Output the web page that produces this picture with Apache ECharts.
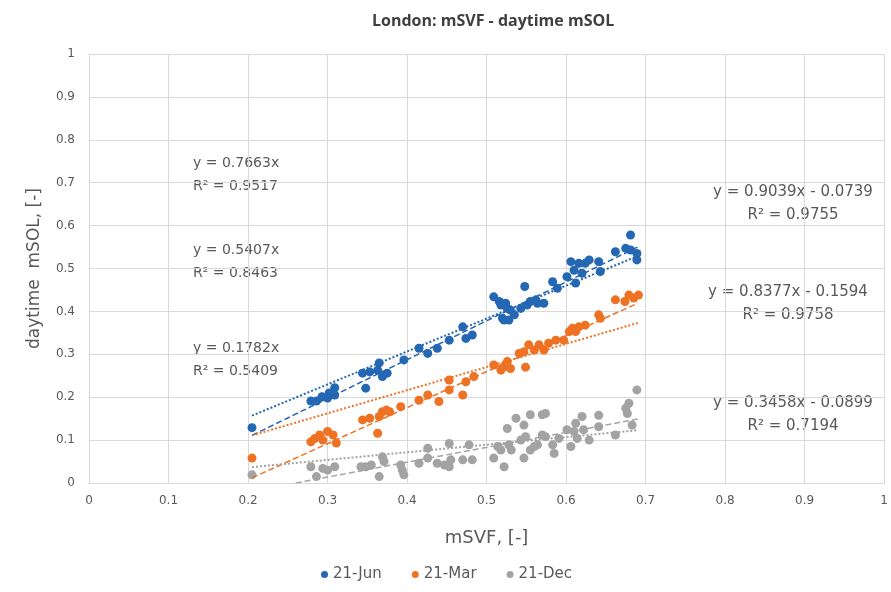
<!DOCTYPE html>
<html>
<head>
<meta charset="utf-8">
<script src="https://cdn.jsdelivr.net/npm/echarts@6/dist/echarts.min.js"></script>
<style>
    html, body { margin: 0; padding: 0; background: #fff; }
    #chart { width: 891px; height: 592px; }
</style>
</head>
<body>
<div id="chart"></div>
<script>
    // 数据点 [mSVF, mSOL]
    var junPts = [
        [0.205,0.129],[0.279,0.191],[0.286,0.191],[0.293,0.201],[0.300,0.198],[0.302,0.210],
        [0.309,0.222],[0.309,0.205],[0.344,0.256],[0.348,0.221],[0.353,0.259],[0.363,0.263],
        [0.365,0.280],[0.369,0.248],[0.375,0.256],[0.396,0.287],[0.415,0.314],[0.426,0.302],
        [0.438,0.314],[0.453,0.333],[0.470,0.364],[0.474,0.337],[0.482,0.345],[0.509,0.434],
        [0.516,0.423],[0.518,0.415],[0.520,0.384],[0.522,0.380],[0.524,0.419],[0.526,0.407],
        [0.528,0.380],[0.530,0.403],[0.535,0.392],[0.543,0.407],[0.548,0.458],[0.551,0.415],
        [0.555,0.423],[0.562,0.427],[0.564,0.419],[0.572,0.419],[0.583,0.469],[0.589,0.454],
        [0.601,0.481],[0.606,0.516],[0.610,0.496],[0.612,0.466],[0.616,0.512],[0.620,0.489],
        [0.624,0.512],[0.629,0.520],[0.641,0.516],[0.643,0.493],[0.662,0.539],[0.675,0.547],
        [0.681,0.578],[0.681,0.543],[0.689,0.535],[0.689,0.520]
    ];
    var marPts = [
        [0.205,0.058],[0.279,0.096],[0.284,0.104],[0.290,0.112],[0.294,0.100],[0.300,0.120],
        [0.307,0.112],[0.311,0.093],[0.344,0.147],[0.353,0.151],[0.363,0.116],[0.365,0.155],
        [0.369,0.166],[0.374,0.170],[0.378,0.166],[0.392,0.178],[0.415,0.193],[0.426,0.205],
        [0.440,0.190],[0.453,0.240],[0.453,0.217],[0.470,0.205],[0.474,0.236],[0.484,0.248],
        [0.509,0.275],[0.518,0.263],[0.522,0.271],[0.526,0.283],[0.530,0.267],[0.541,0.302],
        [0.547,0.306],[0.549,0.270],[0.553,0.322],[0.560,0.310],[0.566,0.322],[0.572,0.310],
        [0.578,0.326],[0.587,0.333],[0.597,0.333],[0.604,0.353],[0.608,0.361],[0.612,0.353],
        [0.616,0.364],[0.624,0.368],[0.641,0.392],[0.643,0.384],[0.662,0.427],[0.674,0.423],
        [0.679,0.438],[0.685,0.431],[0.691,0.438]
    ];
    var decPts = [
        [0.205,0.019],[0.279,0.038],[0.286,0.015],[0.294,0.034],[0.300,0.030],[0.309,0.038],
        [0.342,0.038],[0.348,0.038],[0.355,0.042],[0.365,0.015],[0.369,0.061],[0.371,0.050],
        [0.392,0.042],[0.394,0.030],[0.396,0.019],[0.415,0.046],[0.426,0.081],[0.426,0.058],
        [0.438,0.046],[0.447,0.042],[0.453,0.092],[0.453,0.038],[0.455,0.054],[0.470,0.054],
        [0.478,0.089],[0.482,0.054],[0.509,0.058],[0.514,0.085],[0.518,0.077],[0.522,0.038],
        [0.526,0.127],[0.528,0.089],[0.531,0.077],[0.537,0.151],[0.543,0.100],[0.547,0.135],
        [0.547,0.058],[0.549,0.108],[0.555,0.159],[0.555,0.077],[0.560,0.085],[0.564,0.089],
        [0.570,0.159],[0.570,0.112],[0.574,0.162],[0.574,0.108],[0.583,0.089],[0.585,0.069],
        [0.591,0.104],[0.601,0.124],[0.606,0.085],[0.610,0.120],[0.612,0.139],[0.614,0.104],
        [0.620,0.155],[0.622,0.124],[0.629,0.100],[0.641,0.158],[0.641,0.131],[0.662,0.112],
        [0.675,0.174],[0.677,0.162],[0.679,0.186],[0.683,0.135],[0.689,0.217]
    ];
    // 趋势线端点
    var junDot = [[0.205,0.157],[0.69,0.529]];
    var junDash = [[0.205,0.111],[0.69,0.550]];
    var marDot = [[0.205,0.111],[0.69,0.373]];
    var marDash = [[0.205,0.012],[0.69,0.419]];
    var decDot = [[0.205,0.037],[0.69,0.123]];
    var decDash = [[0.26,0.0],[0.69,0.149]];
    var names = ['21-Jun', '21-Mar', '21-Dec'];
    var colors = ['#2467b3', '#ee7223', '#a3a3a3'];
    // 方程标注: 文字, 文字, x, 第一行中心y
    var eqLeft = [
        ['y = 0.7663x', 'R² = 0.9517', 193, 163],
        ['y = 0.5407x', 'R² = 0.8463', 193, 250],
        ['y = 0.1782x', 'R² = 0.5409', 193, 348]
    ];
    var eqRight = [
        ['y = 0.9039x - 0.0739', 'R² = 0.9755', 793, 192],
        ['y = 0.8377x - 0.1594', 'R² = 0.9758', 788, 292],
        ['y = 0.3458x - 0.0899', 'R² = 0.7194', 793, 403]
    ];

    var txtColor = '#595959';
    var font = 'DejaVu Sans';
    var graphics = [];
    eqLeft.forEach(function (e) {
        graphics.push({type: 'text', x: e[2], y: e[3] - 11.5,
            style: {text: e[0] + '\n' + e[1], fill: txtColor, font: '14px "' + font + '"', lineHeight: 23}});
    });
    eqRight.forEach(function (e) {
        graphics.push({type: 'text', x: e[2], y: e[3] - 11.5,
            style: {text: e[0] + '\n' + e[1], fill: txtColor, font: '15px "' + font + '"', lineHeight: 23, textAlign: 'center'}});
    });

    function scatter(i, pts) {
        return {name: names[i], type: 'scatter', data: pts, symbolSize: 9, z: 3,
            itemStyle: {color: colors[i], opacity: 1}};
    }
    function trend(i, pts, dash) {
        return {name: names[i] + (dash ? '-lin' : '-dot'), type: 'line', data: pts, symbol: 'none', z: 4,
            silent: true,
            lineStyle: {color: colors[i], width: dash ? 1.5 : 2, type: dash ? [6, 3] : [2, 2]}};
    }

    var mychart = echarts.init(document.getElementById('chart'));
    var option = {
        backgroundColor: '#fff',
        animation: false,
        title: {
            text: 'London: mSVF - daytime mSOL',
            left: 367, top: 8,
            textStyle: {fontFamily: 'Open Sans', fontSize: 16, fontWeight: 'bold', color: '#404040'}
        },
        legend: {
            data: names, bottom: 5, left: 316, icon: 'circle',
            itemWidth: 7, itemHeight: 7, itemGap: 30,
            textStyle: {fontFamily: font, fontSize: 15, color: txtColor}
        },
        grid: {left: 89, right: 5, top: 54, bottom: 109},
        xAxis: {
            type: 'value', min: 0, max: 1, interval: 0.1,
            name: 'mSVF, [-]', nameLocation: 'middle', nameGap: 46,
            nameTextStyle: {fontFamily: font, fontSize: 18, color: txtColor},
            axisLine: {show: true, lineStyle: {color: '#d9d9d9'}},
            axisTick: {show: false},
            axisLabel: {fontFamily: font, fontSize: 12, color: txtColor, margin: 12,
                formatter: function (v) { return +v.toFixed(1) + ''; }},
            splitLine: {show: true, lineStyle: {color: '#d9d9d9'}}
        },
        yAxis: {
            type: 'value', min: 0, max: 1, interval: 0.1,
            name: 'daytime  mSOL, [-]', nameLocation: 'middle', nameGap: 46,
            nameTextStyle: {fontFamily: font, fontSize: 17, color: txtColor},
            axisLine: {show: false},
            axisTick: {show: false},
            axisLabel: {fontFamily: font, fontSize: 12, color: txtColor, margin: 14,
                formatter: function (v) { return +v.toFixed(1) + ''; }},
            splitLine: {show: true, lineStyle: {color: '#d9d9d9'}}
        },
        graphic: graphics,
        series: [
            scatter(0, junPts), scatter(1, marPts), scatter(2, decPts),
            trend(0, junDot, false), trend(0, junDash, true),
            trend(1, marDot, false), trend(1, marDash, true),
            trend(2, decDot, false), trend(2, decDash, true)
        ]
    };
    mychart.setOption(option);
</script>
</body>
</html>
